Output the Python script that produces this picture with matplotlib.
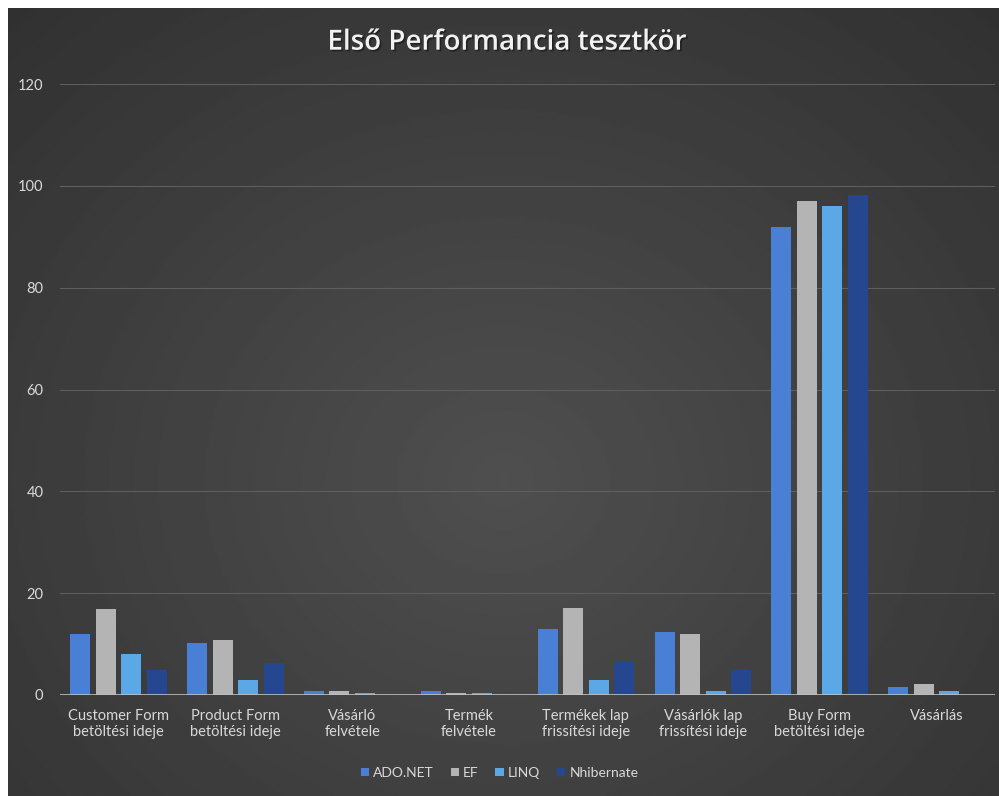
import numpy as np
import matplotlib
matplotlib.use("Agg")
import matplotlib.pyplot as plt
import matplotlib.patheffects as pe

plt.rcParams['font.family'] = ['Lato', 'DejaVu Sans']

categories = ["Customer Form\nbetöltési ideje", "Product Form\nbetöltési ideje",
              "Vásárló\nfelvétele", "Termék\nfelvétele",
              "Termékek lap\nfrissítési ideje", "Vásárlók lap\nfrissítési ideje",
              "Buy Form\nbetöltési ideje", "Vásárlás"]
series_names = ["ADO.NET", "EF", "LINQ", "Nhibernate"]
ado_net = [12, 10.2, 0.7, 0.7, 13, 12.3, 92, 1.5]
ef = [16.8, 10.9, 0.7, 0.4, 17.1, 12.0, 97, 2.1]
linq = [8, 2.9, 0.4, 0.4, 3, 0.7, 96, 0.7]
nhibernate = [4.9, 6.3, 0, 0, 6.7, 5, 98.2, 0]
colors = ["#4a7fd6", "#b4b4b4", "#5ca8e6", "#24478f"]
yticks = [0, 20, 40, 60, 80, 100, 120]

fig = plt.figure(figsize=(9.99, 7.96), dpi=100, facecolor="white")

# background: lighter in the upper middle, darker at the edges
bg = fig.add_axes([8/999, 0, 991/999, 788/796])
yy, xx = np.mgrid[-1:1:400j, -1:1:500j]
r = np.sqrt(xx**2 + ((yy - 0.2) * 0.9)**2)
shade = 0.31 - 0.12 * np.clip(r / 1.5, 0, 1)
bg.imshow(shade, cmap="gray", vmin=0, vmax=1, aspect="auto", extent=[0, 1, 0, 1])
bg.axis("off")

ax = fig.add_axes([60/999, 101/796, 935/999, 611/796])
ax.set_facecolor("none")
x = np.arange(len(categories))
step = 0.218
width = 0.171
data = [ado_net, ef, linq, nhibernate]
for i in range(len(data)):
    ax.bar(x + (i - 1.5) * step, data[i], width, color=colors[i], label=series_names[i], zorder=3)

ax.set_xlim(-0.5, len(categories) - 0.5)
ax.set_ylim(0, 120)
ax.set_yticks(yticks)
ax.set_xticks(x)
ax.set_xticklabels(categories, fontsize=10.5, color="#d9d9d9")
ax.tick_params(axis="both", length=0, colors="#d9d9d9", labelsize=10.5)
ax.tick_params(axis="x", pad=10)
ax.tick_params(axis="y", pad=12)
ax.grid(axis="y", color="#5e5e5e", linewidth=0.8, zorder=0)
for s in ax.spines.values():
    s.set_visible(False)
ax.axhline(0, color="#bfbfbf", linewidth=1.2, zorder=4)

fig.text(0.507, 0.947, "Első Performancia tesztkör", ha="center", va="center",
         fontsize=20, fontweight="semibold", color="#f2f2f2", family=["Open Sans", "DejaVu Sans"],
         path_effects=[pe.withSimplePatchShadow(offset=(1.2, -1.2), shadow_rgbFace="black", alpha=0.4)])

leg = fig.legend(loc="center", bbox_to_anchor=(0.5, 0.029), ncol=4, frameon=False,
                 fontsize=10, handlelength=0.6, handleheight=0.6, handletextpad=0.3,
                 columnspacing=1.2)
for t in leg.get_texts():
    t.set_color("#d9d9d9")

fig.savefig("out.png", dpi=100, facecolor="white")
